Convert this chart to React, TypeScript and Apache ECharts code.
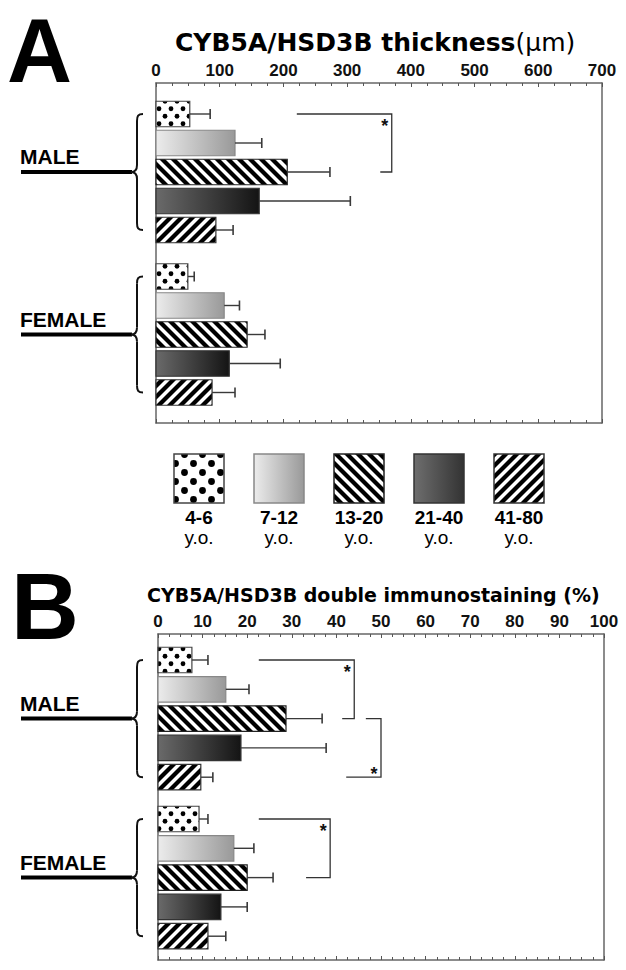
import React, { useEffect, useRef } from "react";
import * as echarts from "echarts";

// ---------- data ----------
const ageGroups = ["4-6", "7-12", "13-20", "21-40", "41-80"];
const ageUnit = "y.o.";
const sexLabels = ["MALE", "FEMALE"];

const thicknessMale = [53, 124, 206, 162, 94];
const thicknessMaleSE = [32, 42, 67, 143, 27];
const thicknessFemale = [50, 107, 143, 115, 88];
const thicknessFemaleSE = [10, 24, 28, 80, 36];

const stainingMale = [7.6, 15.2, 28.7, 18.6, 9.6];
const stainingMaleSE = [3.6, 5.2, 8.1, 19.1, 2.7];
const stainingFemale = [9.2, 17.0, 20.0, 14.1, 11.2];
const stainingFemaleSE = [2.0, 4.5, 5.8, 5.9, 4.0];

// axis [min, max, interval]
const thicknessAxis = [0, 700, 100];
const stainingAxis = [0, 100, 10];

// significance: [sex, fromGroup, toGroup, lineStart, bracketAt, lineEnd, starBelow]
const thicknessSig = [[0, 0, 2, 221, 370, 352, 0]];
const stainingSig = [
  [0, 0, 2, 22.6, 44, 41.3, 0],
  [0, 2, 4, 46.6, 50, 42.2, 1],
  [1, 0, 2, 22.6, 38.6, 33.2, 0],
];

const titleA = "CYB5A/HSD3B thickness";
const titleAUnit = "(μm)";
const titleB = "CYB5A/HSD3B double immunostaining (%)";

// ---------- layout ----------
const PANELS = [
  { left: 156, top: 83, width: 446, height: 340, maleStart: 31, femaleStart: 193.5, pitch: 29 },
  { left: 158, top: 634, width: 446, height: 326, maleStart: 26, femaleStart: 185, pitch: 29.3 },
];
const BAR_H = 25.5;
const SANS = '"Liberation Sans", Arial, Helvetica, sans-serif';
const DEJAVU = '"DejaVu Sans", sans-serif';

function slot(p: any, sex: number, i: number) {
  return (sex === 0 ? p.maleStart : p.femaleStart) + i * p.pitch;
}

function stripeTile(T: number, w: number, dir: number) {
  const c = document.createElement("canvas");
  c.width = T;
  c.height = T;
  const g = c.getContext("2d")!;
  g.fillStyle = "#fff";
  g.fillRect(0, 0, T, T);
  g.fillStyle = "#000";
  for (let k = -2; k <= 3; k++) {
    const o = k * T;
    g.beginPath();
    if (dir === 1) {
      g.moveTo(o, 0);
      g.lineTo(o + w, 0);
      g.lineTo(o + w - T, T);
      g.lineTo(o - T, T);
    } else {
      g.moveTo(o, 0);
      g.lineTo(o + w, 0);
      g.lineTo(o + w + T, T);
      g.lineTo(o + T, T);
    }
    g.closePath();
    g.fill();
  }
  return c;
}

function dotTile(W: number, H: number, r: number) {
  const c = document.createElement("canvas");
  c.width = W;
  c.height = H;
  const g = c.getContext("2d")!;
  g.fillStyle = "#fff";
  g.fillRect(0, 0, W, H);
  g.fillStyle = "#000";
  [[W / 4, H / 4], [(3 * W) / 4, (3 * H) / 4]].forEach(([x, y]) => {
    g.beginPath();
    g.arc(x, y, r, 0, Math.PI * 2);
    g.fill();
  });
  return c;
}

function pattern(c: HTMLCanvasElement) {
  return { image: c, repeat: "repeat", imageWidth: c.width, imageHeight: c.height };
}

export default function App() {
  const ref = useRef<HTMLDivElement>(null);

  useEffect(() => {
    const chart = echarts.init(ref.current!, null, { renderer: "svg" });

    const grayGrad = () =>
      new echarts.graphic.LinearGradient(0, 0, 1, 0, [
        { offset: 0, color: "#ececec" },
        { offset: 1, color: "#999999" },
      ]);
    const darkGrad = () =>
      new echarts.graphic.LinearGradient(0, 0, 1, 0, [
        { offset: 0, color: "#6a6a6a" },
        { offset: 1, color: "#141414" },
      ]);
    const darkGradLegend = () =>
      new echarts.graphic.LinearGradient(0, 0, 1, 0, [
        { offset: 0, color: "#6e6e6e" },
        { offset: 1, color: "#333333" },
      ]);

    const barFills: any[] = [
      pattern(dotTile(12, 15, 2.4)),
      grayGrad(),
      pattern(stripeTile(11, 6, -1)),
      darkGrad(),
      pattern(stripeTile(11, 6, 1)),
    ];
    const legendFills: any[] = [
      pattern(dotTile(18, 18, 3.4)),
      grayGrad(),
      pattern(stripeTile(11, 6, -1)),
      darkGradLegend(),
      pattern(stripeTile(11, 6, 1)),
    ];
    const strokes = ["#444", "#888", "#222", "#333", "#333"];

    const renderBar = (params: any, api: any) => {
      const v = api.value(0);
      const e = api.value(1);
      const pos = api.value(2);
      const k = api.value(3);
      const a = api.coord([0, pos]);
      const b = api.coord([v, pos]);
      const c = api.coord([v + e, pos]);
      return {
        type: "group",
        children: [
          {
            type: "rect",
            shape: { x: a[0], y: a[1] - BAR_H / 2, width: b[0] - a[0], height: BAR_H },
            style: { fill: barFills[k], stroke: strokes[k], lineWidth: 1.2 },
          },
          {
            type: "line",
            shape: { x1: b[0], y1: b[1], x2: c[0], y2: c[1] },
            style: { stroke: "#3a3a3a", lineWidth: 1.4 },
          },
          {
            type: "line",
            shape: { x1: c[0], y1: c[1] - 5, x2: c[0], y2: c[1] + 5 },
            style: { stroke: "#3a3a3a", lineWidth: 1.6 },
          },
        ],
      };
    };

    const renderBracket = (params: any, api: any) => {
      const p1 = api.coord([api.value(0), api.value(3)]);
      const p2 = api.coord([api.value(1), api.value(3)]);
      const p3 = api.coord([api.value(1), api.value(4)]);
      const p4 = api.coord([api.value(2), api.value(4)]);
      const below = api.value(5) === 1;
      const sx = p2[0] - 7;
      const sy = below ? p3[1] - 3 : p2[1] + 11.5;
      return {
        type: "group",
        children: [
          {
            type: "polyline",
            shape: { points: [p1, p2, p3, p4] },
            style: { stroke: "#333", lineWidth: 1.3, fill: null },
          },
          {
            type: "text",
            x: sx,
            y: sy,
            style: {
              text: "*",
              font: `bold 18px ${SANS}`,
              fill: "#111",
              align: "center",
              verticalAlign: "middle",
              textAlign: "center",
              textVerticalAlign: "middle",
            },
          },
        ],
      };
    };

    const barData = (m: number[], mse: number[], f: number[], fse: number[], p: any) => {
      const out: number[][] = [];
      [[m, mse], [f, fse]].forEach(([vals, se], s) =>
        vals.forEach((val, i) => out.push([val, se[i], slot(p, s, i), i]))
      );
      return out;
    };
    const sigData = (sig: number[][], p: any) =>
      sig.map((s) => [s[3], s[4], s[5], slot(p, s[0], s[1]), slot(p, s[0], s[2]), s[6]]);

    const axisLineStyle = { color: "#666", width: 1.5 };
    const xAxes: any[] = [];
    [thicknessAxis, stainingAxis].forEach((ax, gi) => {
      const base = {
        type: "value",
        gridIndex: gi,
        min: ax[0],
        max: ax[1],
        interval: ax[2],
        splitLine: { show: false },
        axisLine: { show: true, onZero: false, lineStyle: axisLineStyle },
        axisTick: { show: true, inside: true, length: 4, lineStyle: { color: "#555", width: 1 } },
        minorTick: { show: true, splitNumber: 4, length: 3, lineStyle: { color: "#555", width: 1 } },
      };
      xAxes.push({
        ...base,
        position: "top",
        axisLabel: {
          show: true,
          fontFamily: SANS,
          fontWeight: "bold",
          fontSize: 17,
          color: "#111",
          margin: 4,
        },
      });
      xAxes.push({ ...base, position: "bottom", axisLabel: { show: false } });
    });

    const yAxes: any[] = [];
    PANELS.forEach((p, gi) => {
      const base = {
        type: "value",
        gridIndex: gi,
        min: 0,
        max: p.height,
        inverse: true,
        splitLine: { show: false },
        axisTick: { show: false },
        axisLabel: { show: false },
        axisLine: { show: true, onZero: false, lineStyle: axisLineStyle },
      };
      yAxes.push({ ...base, position: "left" });
      yAxes.push({ ...base, position: "right" });
    });

    // ---------- graphic decorations ----------
    const graphics: any[] = [];
    const txt = (x: number, y: number, text: string, font: string, align = "left") => ({
      type: "text",
      x,
      y,
      style: {
        text,
        font,
        fill: "#000",
        align,
        verticalAlign: "middle",
        textAlign: align,
        textVerticalAlign: "middle",
      },
    });

    graphics.push(txt(7, 50.5, "A", `bold 90px ${SANS}`));
    graphics.push(txt(11, 606, "B", `bold 94px ${SANS}`));

    graphics.push({
      type: "text",
      x: 175,
      y: 42,
      style: {
        text: `{b|${titleA}}{r|${titleAUnit}}`,
        rich: {
          b: { font: `bold 25px ${DEJAVU}`, fill: "#000" },
          r: { font: `25px ${DEJAVU}`, fill: "#000" },
        },
        align: "left",
        verticalAlign: "middle",
        textAlign: "left",
        textVerticalAlign: "middle",
      },
    });
    graphics.push(txt(147, 595, titleB, `bold 19px ${DEJAVU}`));

    PANELS.forEach((p) => {
      [0, 1].forEach((s) => {
        const yTop = p.top + slot(p, s, 0);
        const yMid = p.top + slot(p, s, 2);
        const yBot = p.top + slot(p, s, 4);
        const xTip = 131;
        const xStem = 137;
        const xEnd = 143;
        const r = 7;
        const st = { stroke: "#111", lineWidth: 2, fill: null };
        graphics.push(txt(20, yMid - 15.5, sexLabels[s], `bold 21px ${SANS}`));
        graphics.push({
          type: "line",
          shape: { x1: 21, y1: yMid, x2: xTip + 1, y2: yMid },
          style: { stroke: "#000", lineWidth: 4 },
        });
        graphics.push({
          type: "group",
          children: [
            {
              type: "bezierCurve",
              shape: { x1: xEnd, y1: yTop, cpx1: xStem + 1, cpy1: yTop, cpx2: xStem, cpy2: yTop + 2, x2: xStem, y2: yTop + r },
              style: st,
            },
            { type: "line", shape: { x1: xStem, y1: yTop + r, x2: xStem, y2: yMid - r }, style: st },
            {
              type: "bezierCurve",
              shape: { x1: xStem, y1: yMid - r, cpx1: xStem, cpy1: yMid - 2, cpx2: xStem - 2, cpy2: yMid, x2: xTip, y2: yMid },
              style: st,
            },
            {
              type: "bezierCurve",
              shape: { x1: xTip, y1: yMid, cpx1: xStem - 2, cpy1: yMid, cpx2: xStem, cpy2: yMid + 2, x2: xStem, y2: yMid + r },
              style: st,
            },
            { type: "line", shape: { x1: xStem, y1: yMid + r, x2: xStem, y2: yBot - r }, style: st },
            {
              type: "bezierCurve",
              shape: { x1: xStem, y1: yBot - r, cpx1: xStem, cpy1: yBot - 2, cpx2: xStem + 1, cpy2: yBot, x2: xEnd, y2: yBot },
              style: st,
            },
          ],
        });
      });
    });

    ageGroups.forEach((g, i) => {
      const x = 174 + i * 80;
      graphics.push({
        type: "rect",
        shape: { x, y: 454, width: 50, height: 49 },
        style: { fill: legendFills[i], stroke: strokes[i], lineWidth: 1.5 },
      });
      graphics.push(txt(x + 25, 517.5, g, `bold 19px ${SANS}`, "center"));
      graphics.push(txt(x + 25, 537, ageUnit, `19px ${SANS}`, "center"));
    });

    chart.setOption({
      animation: false,
      backgroundColor: "#fff",
      grid: PANELS.map((p) => ({ left: p.left, top: p.top, width: p.width, height: p.height })),
      xAxis: xAxes,
      yAxis: yAxes,
      series: [
        {
          type: "custom",
          xAxisIndex: 0,
          yAxisIndex: 0,
          renderItem: renderBar,
          data: barData(thicknessMale, thicknessMaleSE, thicknessFemale, thicknessFemaleSE, PANELS[0]),
          encode: { x: 0, y: 2 },
          clip: false,
        },
        {
          type: "custom",
          xAxisIndex: 0,
          yAxisIndex: 0,
          renderItem: renderBracket,
          data: sigData(thicknessSig, PANELS[0]),
          encode: { x: [0, 1, 2], y: [3, 4] },
          clip: false,
        },
        {
          type: "custom",
          xAxisIndex: 2,
          yAxisIndex: 2,
          renderItem: renderBar,
          data: barData(stainingMale, stainingMaleSE, stainingFemale, stainingFemaleSE, PANELS[1]),
          encode: { x: 0, y: 2 },
          clip: false,
        },
        {
          type: "custom",
          xAxisIndex: 2,
          yAxisIndex: 2,
          renderItem: renderBracket,
          data: sigData(stainingSig, PANELS[1]),
          encode: { x: [0, 1, 2], y: [3, 4] },
          clip: false,
        },
      ],
      graphic: graphics,
    });

    return () => chart.dispose();
  }, []);

  return (
    <div
      ref={ref}
      style={{ position: "absolute", left: 0, top: 0, width: 626, height: 970, background: "#fff" }}
    />
  );
}
